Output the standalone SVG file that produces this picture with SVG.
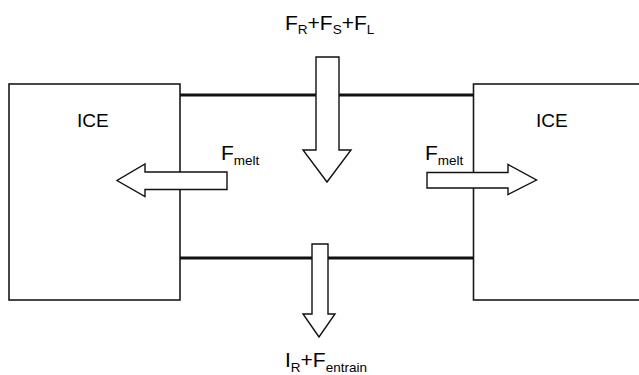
<svg xmlns="http://www.w3.org/2000/svg" width="639" height="375" viewBox="0 0 639 375">
<style>
.box{fill:#fff;stroke:#1a1a1a;stroke-width:1.6}
.bar{stroke:#111;stroke-width:3.2;fill:none}
.arr{fill:#fff;stroke:#111;stroke-width:1.4;stroke-linejoin:miter}
text{font-family:"Liberation Sans",Arial,sans-serif;fill:#000}
.main{font-size:21px}
.sub{font-size:13.5px}
.ice{font-size:19px}
</style>
<rect width="639" height="375" fill="#fff"/>
<g id="ice-left">
<rect class="box" x="9" y="84" width="171" height="216"/>
<text class="ice" x="77" y="127">ICE</text>
</g>
<g id="ice-right">
<rect class="box" x="473.5" y="84" width="170" height="216"/>
<text class="ice" x="536" y="127">ICE</text>
</g>
<g id="connectors">
<line class="bar" x1="180" y1="95" x2="473.5" y2="95"/>
<line class="bar" x1="180" y1="258" x2="473.5" y2="258"/>
<polygon class="arr" points="316,57 339,57 339,150 351,150 327,182 303,150 316,150"/>
<polygon class="arr" points="312,244 328,244 328,314 335,314 319,337 303,314 312,314"/>
<polygon class="arr" points="227,172 227,189.5 145,189.5 145,196.5 117,180.5 145,164 145,172"/>
<polygon class="arr" points="427,172.5 427,188 508,188 508,194.5 536.5,180 508,164.5 508,172.5"/>
</g>
<g id="labels">
<text class="main" x="285" y="30" font-size="22">F<tspan class="sub" font-size="14" dy="4">R</tspan><tspan dy="-4">+F</tspan><tspan class="sub" font-size="14" dy="4">S</tspan><tspan dy="-4">+F</tspan><tspan class="sub" font-size="14" dy="4">L</tspan></text>
<text class="main" x="221" y="160">F<tspan class="sub" font-size="12.5" dy="5">melt</tspan></text>
<text class="main" x="425" y="160">F<tspan class="sub" font-size="12.5" dy="5">melt</tspan></text>
<text class="main" x="285" y="366.5">I<tspan class="sub" font-size="13" dy="5">R</tspan><tspan dy="-5">+F</tspan><tspan class="sub" font-size="13" dy="5">entrain</tspan></text>
</g>
</svg>
